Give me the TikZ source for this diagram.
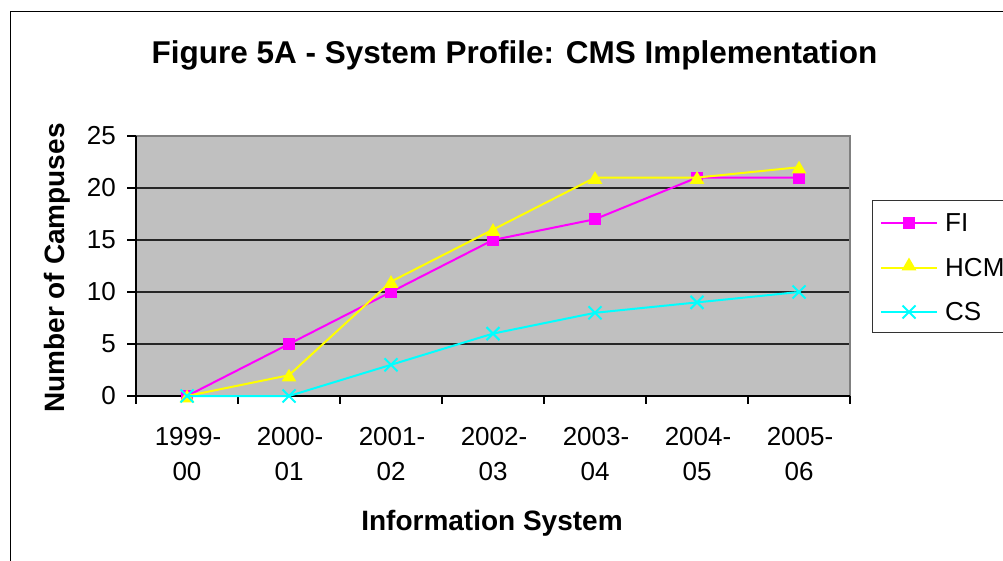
\documentclass[tikz,border=0pt]{standalone}
\usepackage{fontspec}
\setmainfont{Liberation Sans}
\usetikzlibrary{shapes.geometric}
\definecolor{plotgray}{HTML}{C0C0C0}
\definecolor{framegray}{HTML}{808080}
\definecolor{fimag}{HTML}{FF00FF}
\definecolor{hcmyel}{HTML}{FFFF00}
\definecolor{cscyan}{HTML}{00FFFF}
\tikzset{
  ticklab/.style={inner sep=0pt, font=\fontsize{26}{30}\selectfont},
  axtitle/.style={inner sep=0pt, font=\fontsize{28}{32}\selectfont\bfseries},
  grid line/.style={line width=1.2pt, black!85},
  filine/.style={fimag, line width=2pt},
  hcmline/.style={hcmyel, line width=2pt},
  csline/.style={cscyan, line width=2pt},
  fimark/.style={rectangle, fill=fimag, minimum size=12pt, inner sep=0pt},
  hcmmark/.style={regular polygon, regular polygon sides=3, fill=hcmyel, minimum size=17pt, inner sep=0pt},
  csmark/.pic={\draw[cscyan, line width=2pt] (-6.5pt,-6.5pt) -- (6.5pt,6.5pt) (-6.5pt,6.5pt) -- (6.5pt,-6.5pt);}
}
\begin{document}
\begin{tikzpicture}[x=1pt,y=-1pt]
\useasboundingbox (0,0) rectangle (1003,561);
\clip (0,0) rectangle (1003,561);
% outer chart frame
\draw[line width=1pt] (10,12) rectangle (1020,580);
% title
\node[axtitle, font=\fontsize{31.5}{36}\selectfont\bfseries, anchor=base] (title) at (514.5,63.5) {Figure 5A - System Profile: CMS Implementation};
% plot area
\fill[plotgray] (136,136) rectangle (850,396);
\foreach \v in {5,10,15,20} {
  \draw[grid line] (136,{396-10.4*\v}) -- (850,{396-10.4*\v});
}
\draw[framegray, line width=1.8pt] (136,136) -- (850,136) -- (850,396);
\draw[line width=1.2pt] (136,136) -- (136,396) -- (850,396);
% y ticks and labels
\foreach \v in {0,5,10,15,20,25} {
  \draw[line width=1.2pt] (127,{396-10.4*\v}) -- (136,{396-10.4*\v});
  \node[ticklab, anchor=east] (ylab\v) at (116,{396-10.4*\v}) {\v};
}
% x ticks
\foreach \i in {0,...,7} {
  \draw[line width=1.2pt] ({136+102*\i},396) -- ({136+102*\i},404);
}
% x labels
\foreach \a/\b [count=\i from 0] in {1999-/00,2000-/01,2001-/02,2002-/03,2003-/04,2004-/05,2005-/06} {
  \node[ticklab, anchor=base] (xa\i) at ({136+102*(\i+0.5)+1},445) {\a};
  \node[ticklab, anchor=base] (xb\i) at ({136+102*(\i+0.5)},480) {\b};
}
% axis titles
\node[axtitle, anchor=base] (xtitle) at (492,530) {Information System};
\node[axtitle, anchor=base, rotate=90] (ytitle) at (64,268) {Number of Campuses};
% data
\begin{scope}[shift={(136,396)}, x=102pt, y=10.4pt]
  \foreach \v [count=\k from 1] in {0,5,10,15,17,21,21} { \coordinate (fi\k) at ({\k-0.5},\v); }
  \foreach \v [count=\k from 1] in {0,2,11,16,21,21,22} { \coordinate (hcm\k) at ({\k-0.5},\v); }
  \foreach \v [count=\k from 1] in {0,0,3,6,8,9,10} { \coordinate (cs\k) at ({\k-0.5},\v); }
\end{scope}
\draw[filine] (fi1) -- (fi2) -- (fi3) -- (fi4) -- (fi5) -- (fi6) -- (fi7);
\foreach \k in {1,...,7} { \node[fimark] (fim\k) at (fi\k) {}; }
\draw[hcmline] (hcm1) -- (hcm2) -- (hcm3) -- (hcm4) -- (hcm5) -- (hcm6) -- (hcm7);
\foreach \k in {1,...,7} { \node[hcmmark] (hcmm\k) at ([yshift=-2pt]hcm\k) {}; }
\draw[csline] (cs1) -- (cs2) -- (cs3) -- (cs4) -- (cs5) -- (cs6) -- (cs7);
\foreach \k in {1,...,7} { \pic at (cs\k) {csmark}; }
% legend
\draw[line width=1pt, black!80] (872,201) rectangle (1020,332);
\coordinate (lfa) at (881,223); \coordinate (lfb) at (937,223);
\coordinate (lha) at (881,268); \coordinate (lhb) at (937,268);
\coordinate (lca) at (881,312); \coordinate (lcb) at (937,312);
\draw[filine] (lfa) -- (lfb);
\node[fimark] (lfm) at (909,223) {};
\draw[hcmline] (lha) -- (lhb);
\node[hcmmark] (lhm) at (909,266) {};
\draw[csline] (lca) -- (lcb);
\pic at (909,312) {csmark};
\node[ticklab, anchor=west] (legfi) at (945,223) {FI};
\node[ticklab, anchor=west] (leghcm) at (945,268) {HCM};
\node[ticklab, anchor=west] (legcs) at (945,312) {CS};
\end{tikzpicture}
\end{document}
